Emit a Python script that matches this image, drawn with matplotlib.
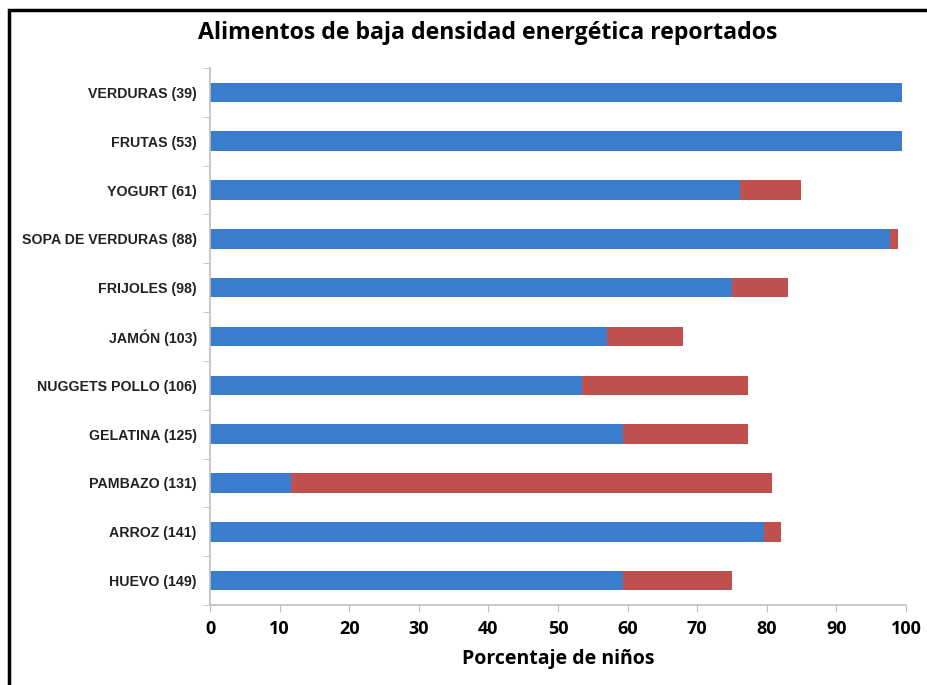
import matplotlib
matplotlib.use("Agg")
import matplotlib.pyplot as plt
import matplotlib.patches as mpatches
import numpy as np

# Food labels (top to bottom) and stacked percentages
labels = [
    "VERDURAS (39)", "FRUTAS (53)", "YOGURT (61)", "SOPA DE VERDURAS (88)",
    "FRIJOLES (98)", "JAMÓN (103)", "NUGGETS POLLO (106)", "GELATINA (125)",
    "PAMBAZO (131)", "ARROZ (141)", "HUEVO (149)",
]
blue_vals = [99.4, 99.4, 76.2, 97.7, 75.0, 57.0, 53.5, 59.4, 11.6, 79.6, 59.4]
red_vals = [0.0, 0.0, 8.7, 1.1, 8.1, 11.0, 23.8, 17.9, 69.1, 2.4, 15.6]
xticks = list(range(0, 101, 10))

BLUE = "#3A7DCD"
RED = "#C0504D"
GRID = "#BFBFBF"

fig = plt.figure(figsize=(9.27, 6.85), dpi=100)
ax = fig.add_axes([210 / 927, 1 - 605 / 685, 696 / 927, 537 / 685])

y = np.arange(len(labels))
ax.barh(y, blue_vals, height=0.4, color=BLUE)
ax.barh(y, red_vals, left=blue_vals, height=0.4, color=RED)

ax.set_xlim(0, 100)
ax.set_ylim(len(labels) - 0.5, -0.5)

ax.set_xticks(xticks)
ax.set_xticklabels([str(t) for t in xticks], fontsize=13, fontweight="bold",
                   family="Open Sans")
ax.set_yticks(y)
ax.set_yticklabels(labels, fontsize=10.2, fontweight="bold",
                   family="Liberation Sans", color="#222222")
ax.set_yticks(np.arange(-0.5, len(labels), 1), minor=True)
ax.tick_params(axis="y", which="major", length=0, pad=9.5)
ax.tick_params(axis="y", which="minor", length=5, color=GRID, direction="out")
ax.tick_params(axis="x", length=5, color=GRID, pad=6)

for side in ("top", "right"):
    ax.spines[side].set_visible(False)
for side in ("left", "bottom"):
    ax.spines[side].set_color(GRID)
    ax.spines[side].set_linewidth(1.2)

ax.set_xlabel("Porcentaje de niños", fontsize=14, fontweight="bold",
              family="Open Sans", labelpad=8)

fig.text(488 / 927, 1 - 33 / 685, "Alimentos de baja densidad energética reportados",
         ha="center", va="center", fontsize=16.7, fontweight="bold", family="Open Sans")

# outer frame running off the right and bottom edges
fig.patches.append(mpatches.Rectangle(
    (9 / 927, -0.1), 1.2, 1.1 - 10 / 685, transform=fig.transFigure,
    fill=False, edgecolor="black", linewidth=2.5))

fig.savefig("out.png", dpi=100)
